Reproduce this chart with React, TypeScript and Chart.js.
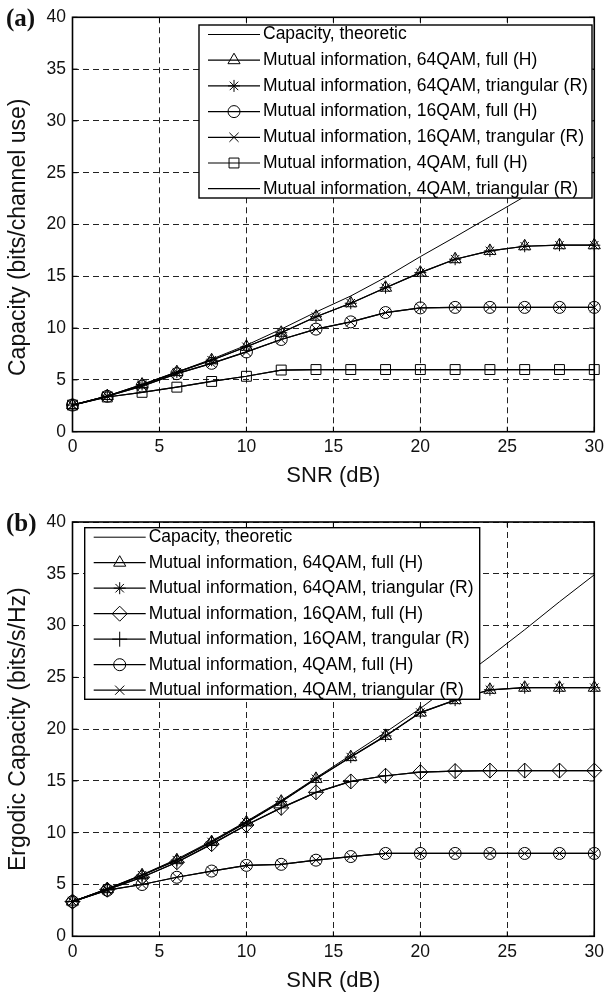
import React, { useEffect, useRef } from 'react';
import { Chart, registerables } from 'chart.js';
import { drawPoint } from 'chart.js/helpers';

Chart.register(...registerables);

// ---------- data ----------
const SNR_DB = [0, 2, 4, 6, 8, 10, 12, 14, 16, 18, 20, 22, 24, 26, 28, 30];
const X_TICKS = [0, 5, 10, 15, 20, 25, 30];
const Y_TICKS = [0, 5, 10, 15, 20, 25, 30, 35, 40];

// panel (a)
const CAP_THEORY_A = [2.57, 3.45, 4.5, 5.75, 7.0, 8.35, 9.9, 11.55, 13.1, 14.9, 16.9, 18.8, 20.75, 22.7, 24.6, 26.5];
const MI_64QAM_A = [2.57, 3.44, 4.55, 5.75, 6.9, 8.2, 9.55, 11.1, 12.4, 13.9, 15.35, 16.65, 17.45, 17.9, 18.0, 18.0];
const MI_16QAM_A = [2.57, 3.42, 4.4, 5.6, 6.6, 7.7, 8.9, 9.9, 10.6, 11.5, 11.95, 12.0, 12.0, 12.0, 12.0, 12.0];
const MI_4QAM_A = [2.57, 3.35, 3.8, 4.3, 4.85, 5.35, 5.95, 6.0, 6.0, 6.0, 6.0, 6.0, 6.0, 6.0, 6.0, 6.0];
const LABELS_A = [
  'Capacity, theoretic',
  'Mutual information, 64QAM, full (H)',
  'Mutual information, 64QAM, triangular (R)',
  'Mutual information, 16QAM, full (H)',
  'Mutual information, 16QAM, trangular (R)',
  'Mutual information, 4QAM, full (H)',
  'Mutual information, 4QAM, triangular (R)',
];

// panel (b)
const CAP_THEORY_B = [3.35, 4.6, 5.95, 7.45, 9.2, 11.1, 13.1, 15.3, 17.5, 19.7, 22.0, 24.5, 27.0, 29.6, 32.3, 34.9];
const MI_64QAM_B = [3.35, 4.55, 5.9, 7.35, 9.1, 11.0, 13.0, 15.2, 17.3, 19.35, 21.6, 22.8, 23.8, 24.0, 24.0, 24.0];
const MI_16QAM_B = [3.35, 4.5, 5.7, 7.15, 8.9, 10.75, 12.4, 13.9, 14.95, 15.5, 15.85, 15.95, 16.0, 16.0, 16.0, 16.0];
const MI_4QAM_B = [3.35, 4.45, 5.0, 5.7, 6.3, 6.85, 6.95, 7.35, 7.7, 8.0, 8.0, 8.0, 8.0, 8.0, 8.0, 8.0];
const LABELS_B = [
  'Capacity, theoretic',
  'Mutual information, 64QAM, full (H)',
  'Mutual information, 64QAM, triangular (R)',
  'Mutual information, 16QAM, full (H)',
  'Mutual information, 16QAM, trangular (R)',
  'Mutual information, 4QAM, full (H)',
  'Mutual information, 4QAM, triangular (R)',
];

const SANS = "'Liberation Sans', Arial, Helvetica, sans-serif";

type SeriesSpec = { label: string; values: number[]; style: string | false; radius: number; width: number };

function toPoints(values: number[]) {
  return SNR_DB.map((x, i) => ({ x, y: values[i] }));
}

const matlabPlugin = {
  id: 'matlabFrame',
  beforeDatasetsDraw(chart: any) {
    const { ctx, chartArea: a, scales } = chart;
    ctx.save();
    ctx.setLineDash([]);
    ctx.strokeStyle = '#000';
    ctx.lineWidth = 1;
    const tl = 5;
    scales.x.ticks.forEach((t: any) => {
      const px = scales.x.getPixelForValue(t.value);
      ctx.beginPath();
      ctx.moveTo(px, a.top); ctx.lineTo(px, a.top + tl);
      ctx.moveTo(px, a.bottom); ctx.lineTo(px, a.bottom - tl);
      ctx.stroke();
    });
    scales.y.ticks.forEach((t: any) => {
      const py = scales.y.getPixelForValue(t.value);
      ctx.beginPath();
      ctx.moveTo(a.left, py); ctx.lineTo(a.left + tl, py);
      ctx.moveTo(a.right, py); ctx.lineTo(a.right - tl, py);
      ctx.stroke();
    });
    ctx.lineWidth = 1.6;
    ctx.strokeRect(a.left, a.top, a.right - a.left, a.bottom - a.top);
    ctx.restore();
  },
  afterDraw(chart: any, _args: any, opts: any) {
    const box = opts.box;
    if (!box) return;
    const { ctx } = chart;
    ctx.save();
    ctx.setLineDash([]);
    ctx.fillStyle = '#fff';
    ctx.fillRect(box.x, box.y, box.w, box.h);
    ctx.strokeStyle = '#000';
    ctx.lineWidth = 1.4;
    ctx.strokeRect(box.x, box.y, box.w, box.h);
    chart.data.datasets.forEach((ds: any, i: number) => {
      const cy = box.y + box.pad + i * box.rowH;
      ctx.strokeStyle = '#000';
      ctx.lineWidth = ds.borderWidth;
      ctx.beginPath();
      ctx.moveTo(box.x + 9, cy);
      ctx.lineTo(box.x + 61, cy);
      ctx.stroke();
      if (ds.pointStyle && ds.pointRadius > 0) {
        ctx.fillStyle = 'rgba(0,0,0,0)';
        ctx.lineWidth = 1;
        drawPoint(ctx, { pointStyle: ds.pointStyle, radius: ds.pointRadius, rotation: 0, borderWidth: 1 } as any, box.x + 35, cy);
      }
      ctx.fillStyle = '#000';
      ctx.font = `17.5px ${SANS}`;
      ctx.textBaseline = 'middle';
      ctx.textAlign = 'left';
      ctx.fillText(ds.label, box.x + 64, cy);
    });
    ctx.restore();
  },
};

type PanelProps = {
  top: number;
  plotTop: number;
  plotBottom: number;
  yTitle: string;
  series: SeriesSpec[];
  legendBox: { x: number; y: number; w: number; h: number; pad: number; rowH: number };
  tag: string;
  tagTop: number;
};

const CANVAS_W = 609;
const CANVAS_H = 491;

function Panel(props: PanelProps) {
  const ref = useRef<HTMLCanvasElement | null>(null);
  useEffect(() => {
    if (!ref.current) return;
    const datasets = props.series.map((s) => ({
      label: s.label,
      data: toPoints(s.values),
      borderColor: '#000',
      borderWidth: s.width,
      pointStyle: s.style || false,
      pointRadius: s.style ? s.radius : 0,
      pointBorderColor: '#000',
      pointBackgroundColor: 'rgba(0,0,0,0)',
      pointBorderWidth: 1,
      tension: 0,
      fill: false,
      clip: false as any,
    }));
    const chart = new Chart(ref.current, {
      type: 'line',
      data: { datasets },
      plugins: [matlabPlugin],
      options: {
        animation: false,
        responsive: false,
        maintainAspectRatio: false,
        events: [],
        layout: { padding: { left: 0, right: CANVAS_W - 598, top: props.plotTop, bottom: 0 } },
        plugins: {
          legend: { display: false },
          tooltip: { enabled: false },
          matlabFrame: { box: props.legendBox },
        } as any,
        scales: {
          x: {
            type: 'linear',
            min: 0,
            max: 30,
            afterBuildTicks: (s: any) => { s.ticks = X_TICKS.map((v) => ({ value: v })); },
            afterFit: (s: any) => { s.height = CANVAS_H - props.plotBottom; },
            grid: { color: '#222', lineWidth: 1, drawTicks: false },
            border: { display: false, dash: [6, 4] },
            ticks: { padding: 5, color: '#111', font: { family: SANS, size: 17.5 }, maxRotation: 0 },
            title: { display: true, text: 'SNR (dB)', color: '#111', font: { family: SANS, size: 22 }, padding: { top: 0, bottom: 2 } },
          },
          y: {
            type: 'linear',
            min: 0,
            max: 40,
            afterBuildTicks: (s: any) => { s.ticks = Y_TICKS.map((v) => ({ value: v })); },
            afterFit: (s: any) => { s.width = 72.5; },
            grid: { color: '#222', lineWidth: 1, drawTicks: false },
            border: { display: false, dash: [6, 4] },
            ticks: { padding: 6.5, color: '#111', font: { family: SANS, size: 17.5 } },
            title: { display: true, text: props.yTitle, color: '#111', font: { family: SANS, size: 23 }, padding: { top: 5, bottom: 0 } },
          },
        },
      } as any,
    });
    return () => chart.destroy();
  }, []);
  return (
    <>
      <canvas
        ref={ref}
        width={CANVAS_W}
        height={CANVAS_H}
        style={{ position: 'absolute', left: 0, top: props.top, width: CANVAS_W, height: CANVAS_H }}
      />
      <div
        style={{
          position: 'absolute',
          left: 6,
          top: props.tagTop,
          fontFamily: "'Liberation Serif', 'Times New Roman', serif",
          fontWeight: 'bold',
          fontSize: 25,
          lineHeight: '24px',
          color: '#111',
        }}
      >
        {props.tag}
      </div>
    </>
  );
}

const SERIES_A: SeriesSpec[] = [
  { label: LABELS_A[0], values: CAP_THEORY_A, style: false, radius: 0, width: 1 },
  { label: LABELS_A[1], values: MI_64QAM_A, style: 'triangle', radius: 7, width: 1.2 },
  { label: LABELS_A[2], values: MI_64QAM_A, style: 'star', radius: 6, width: 1.2 },
  { label: LABELS_A[3], values: MI_16QAM_A, style: 'circle', radius: 6, width: 1.2 },
  { label: LABELS_A[4], values: MI_16QAM_A, style: 'crossRot', radius: 6.5, width: 1.2 },
  { label: LABELS_A[5], values: MI_4QAM_A, style: 'rect', radius: 7, width: 1.2 },
  { label: LABELS_A[6], values: MI_4QAM_A, style: false, radius: 0, width: 1.2 },
];

const SERIES_B: SeriesSpec[] = [
  { label: LABELS_B[0], values: CAP_THEORY_B, style: false, radius: 0, width: 1 },
  { label: LABELS_B[1], values: MI_64QAM_B, style: 'triangle', radius: 7, width: 1.2 },
  { label: LABELS_B[2], values: MI_64QAM_B, style: 'star', radius: 6, width: 1.2 },
  { label: LABELS_B[3], values: MI_16QAM_B, style: 'rectRot', radius: 7.5, width: 1.2 },
  { label: LABELS_B[4], values: MI_16QAM_B, style: 'cross', radius: 7.5, width: 1.2 },
  { label: LABELS_B[5], values: MI_4QAM_B, style: 'circle', radius: 6, width: 1.2 },
  { label: LABELS_B[6], values: MI_4QAM_B, style: 'crossRot', radius: 6.5, width: 1.2 },
];

export default function App() {
  return (
    <div style={{ position: 'absolute', left: 0, top: 0, width: 609, height: 996, background: '#fff', overflow: 'hidden' }}>
      <Panel
        top={0}
        plotTop={17.3}
        plotBottom={431.7}
        yTitle={'Capacity (bits/channel use)\u00a0\u00a0\u00a0\u00a0'}
        series={SERIES_A}
        legendBox={{ x: 199, y: 25, w: 393, h: 173, pad: 9.5, rowH: 25.7 }}
        tag="(a)"
        tagTop={6}
      />
      <Panel
        top={505}
        plotTop={17}
        plotBottom={431.3}
        yTitle="Ergodic Capacity (bits/s/Hz)"
        series={SERIES_B}
        legendBox={{ x: 84.7, y: 22.7, w: 395, h: 171.6, pad: 9.5, rowH: 25.5 }}
        tag="(b)"
        tagTop={511}
      />
    </div>
  );
}
